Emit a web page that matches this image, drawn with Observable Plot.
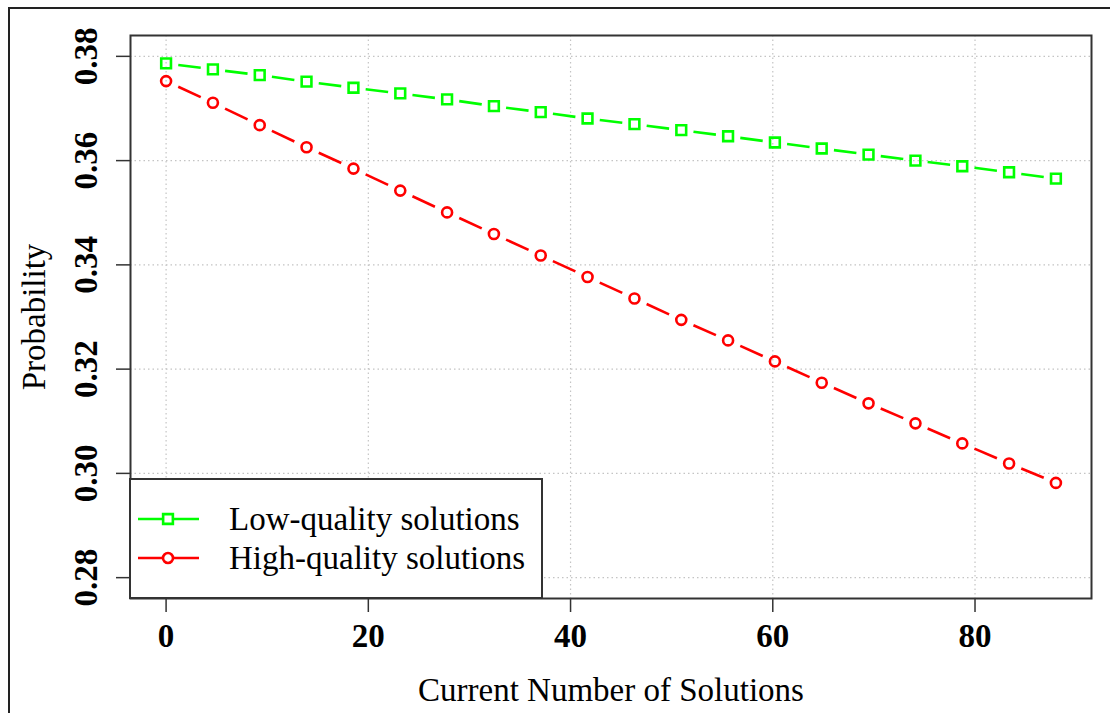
<!DOCTYPE html>
<html><head><meta charset="utf-8">
<script src="https://cdn.jsdelivr.net/npm/d3@7"></script>
<script src="https://cdn.jsdelivr.net/npm/@observablehq/plot@0.6"></script>
<style>
html,body{margin:0;padding:0;background:#fff;overflow:hidden}
#wrap{position:relative;width:1110px;height:713px;overflow:hidden}
#border{position:absolute;left:8px;top:7px;width:1200px;height:800px;border:2px solid #222;box-sizing:border-box;pointer-events:none}
</style></head><body><div id="wrap"><div id="chart"></div><div id="border"></div></div>
<script>
// Data
const xValues = [0, 4.63, 9.26, 13.89, 18.53, 23.16, 27.79, 32.42, 37.05, 41.68, 46.32, 50.95, 55.58, 60.21, 64.84, 69.47, 74.11, 78.74, 83.37, 88];
const lowQuality = [0.37865, 0.37750, 0.37641, 0.37514, 0.37398, 0.37289, 0.37174, 0.37045, 0.36929, 0.36808, 0.36699, 0.36584, 0.36468, 0.36347, 0.36232, 0.36116, 0.36001, 0.35892, 0.35776, 0.35655];
const highQuality = [0.37525, 0.37110, 0.36680, 0.36257, 0.35847, 0.35425, 0.35007, 0.34592, 0.34181, 0.33766, 0.33355, 0.32945, 0.32551, 0.32148, 0.31740, 0.31344, 0.30960, 0.30575, 0.30191, 0.29818];
const seriesNames = ["Low-quality solutions", "High-quality solutions"];
const seriesColors = ["#00ff00", "#ff0000"];
const seriesSymbols = ["square", "circle"];
const xTicks = [0, 20, 40, 60, 80];
const xTickLabels = ["0", "20", "40", "60", "80"];
const yTicks = [0.28, 0.30, 0.32, 0.34, 0.36, 0.38];
const yTickLabels = ["0.28", "0.30", "0.32", "0.34", "0.36", "0.38"];
const xTitle = "Current Number of Solutions";
const yTitle = "Probability";

const seriesValues = [lowQuality, highQuality];
const symbolR = {square: 5.5, circle: 5.0};
const gap = 0.26; // R type="b" gap around each marker (fraction of step)
const pointsBySeries = [];
const segments = [];
seriesValues.forEach((vals, s) => {
  pointsBySeries.push(vals.map((v, i) => ({series: seriesNames[s], x: xValues[i], y: v})));
  for (let i = 0; i < vals.length - 1; i++) {
    const dx = xValues[i + 1] - xValues[i], dy = vals[i + 1] - vals[i];
    segments.push({series: seriesNames[s],
      x1: xValues[i] + gap * dx, y1: vals[i] + gap * dy,
      x2: xValues[i + 1] - gap * dx, y2: vals[i + 1] - gap * dy});
  }
});
const yTickRows = yTicks.map((t, i) => ({y: t, label: yTickLabels[i]}));

const serif = "'Liberation Serif','Times New Roman',Times,serif";
const chart = Plot.plot({
  width: 1110, height: 713,
  marginLeft: 130, marginRight: 19, marginTop: 35, marginBottom: 115,
  style: {fontFamily: serif, background: "white", color: "#000"},
  x: {domain: [-3.52, 91.52]},
  y: {domain: [0.276, 0.384]},
  color: {domain: seriesNames, range: seriesColors},
  marks: [
    Plot.gridX(xTicks, {stroke: "#c4c4c4", strokeOpacity: 1, strokeWidth: 1.2, strokeDasharray: "1.5,3"}),
    Plot.gridY(yTicks, {stroke: "#c4c4c4", strokeOpacity: 1, strokeWidth: 1.2, strokeDasharray: "1.5,3"}),
    Plot.link(segments, {x1: "x1", y1: "y1", x2: "x2", y2: "y2", stroke: "series", strokeWidth: 2.6}),
    ...pointsBySeries.map((pts, s) => Plot.dot(pts, {x: "x", y: "y", symbol: seriesSymbols[s], r: symbolR[seriesSymbols[s]],
      stroke: seriesColors[s], strokeWidth: 2.6, fill: "none"})),
    Plot.frame({stroke: "#333", strokeWidth: 2}),
    Plot.axisX(xTicks, {tickSize: 14, tickPadding: 11, fontSize: 33, fontWeight: "bold", label: null, stroke: "#333", strokeWidth: 1.5,
      tickFormat: d => xTickLabels[xTicks.indexOf(d)]}),
    Plot.axisY(yTicks, {tickSize: 14, tickFormat: () => "", label: null, stroke: "#333", strokeWidth: 1.5}),
    Plot.text(yTickRows, {y: "y", text: "label", frameAnchor: "left", dx: -34, rotate: -90, textAnchor: "middle", lineAnchor: "bottom",
      fontSize: 33, fontWeight: "bold", fill: "#000"}),
    Plot.text([xTitle], {frameAnchor: "bottom", dy: 102, lineAnchor: "bottom", textAnchor: "middle", fontSize: 33, fill: "#000"}),
    Plot.text([yTitle], {frameAnchor: "left", dx: -86, rotate: -90, lineAnchor: "bottom", textAnchor: "middle", fontSize: 33, fill: "#000"})
  ]
});
document.getElementById("chart").appendChild(chart);

// Legend (inside the plot, bottom-left like R's legend("bottomleft"))
const svg = d3.select(chart);
const lg = svg.append("g").attr("font-family", serif).attr("font-size", 33).attr("text-anchor", "start");
lg.append("rect").attr("x", 130).attr("y", 479).attr("width", 412).attr("height", 119)
  .attr("fill", "white").attr("stroke", "#333").attr("stroke-width", 2);
seriesNames.forEach((name, i) => {
  const yy = 519 + i * 39;
  lg.append("line").attr("x1", 138).attr("x2", 199).attr("y1", yy).attr("y2", yy)
    .attr("stroke", seriesColors[i]).attr("stroke-width", 2.6);
  const sym = seriesSymbols[i] === "square" ? d3.symbolSquare : d3.symbolCircle;
  const r = symbolR[seriesSymbols[i]];
  lg.append("path").attr("d", d3.symbol(sym, Math.PI * r * r)())
    .attr("transform", `translate(168,${yy})`).attr("fill", "white")
    .attr("stroke", seriesColors[i]).attr("stroke-width", 2.6);
  lg.append("text").attr("x", 229).attr("y", yy).attr("dy", "0.32em").attr("text-anchor", "start").attr("fill", "#000").text(name);
});
</script></body></html>
